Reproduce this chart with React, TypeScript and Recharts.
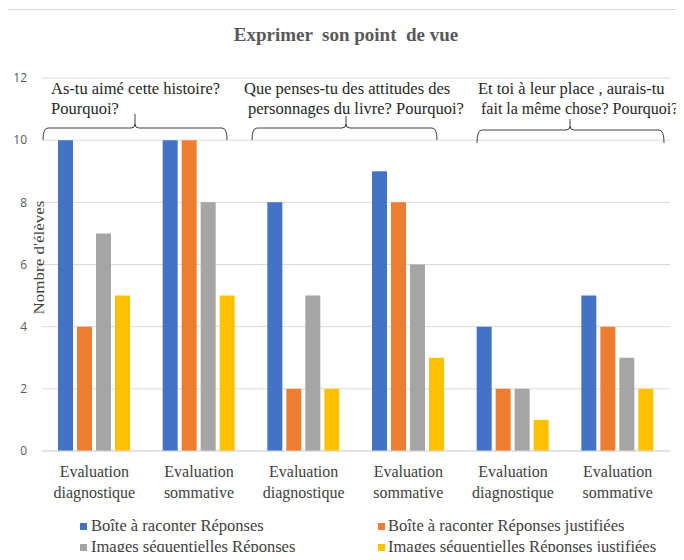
import React from 'react';
import { BarChart, Bar, XAxis, YAxis, CartesianGrid, Legend, Customized } from 'recharts';

const categories = [
  'Evaluation diagnostique',
  'Evaluation sommative',
  'Evaluation diagnostique',
  'Evaluation sommative',
  'Evaluation diagnostique',
  'Evaluation sommative',
];
const boiteReponses = [10, 10, 8, 9, 4, 5];
const boiteJustifiees = [4, 10, 2, 8, 2, 4];
const imagesReponses = [7, 8, 5, 6, 2, 3];
const imagesJustifiees = [5, 5, 2, 3, 1, 2];
const yTicks = [0, 2, 4, 6, 8, 10, 12];

const series = [
  { key: 'boiteReponses', name: 'Boîte à raconter Réponses', color: '#4472C4' },
  { key: 'boiteJustifiees', name: 'Boîte à raconter Réponses justifiées', color: '#ED7D31' },
  { key: 'imagesReponses', name: 'Images séquentielles Réponses', color: '#A5A5A5' },
  { key: 'imagesJustifiees', name: 'Images séquentielles Réponses justifiées', color: '#FFC000' },
];

const questions = [
  ['As-tu aimé cette histoire?', 'Pourquoi?'],
  ['Que penses-tu des attitudes des', 'personnages du livre? Pourquoi?'],
  ['Et toi à leur place , aurais-tu', 'fait la même chose? Pourquoi?'],
];

// layout of the brace annotations (pixels)
const braceLayout = [
  { tx: 51, tx2: 51, fs2: 16.5, ty: 94, x1: 43, x2: 227, cx: 135, y: 128, top: 114, bottom: 140 },
  { tx: 244, tx2: 248, fs2: 16.5, ty: 94, x1: 252, x2: 437, cx: 346, y: 128, top: 116, bottom: 140 },
  { tx: 478, tx2: 481, fs2: 16, ty: 94, x1: 477, x2: 664, cx: 570, y: 130, top: 119, bottom: 143 },
];

const data = categories.map((name, i) => ({
  name,
  boiteReponses: boiteReponses[i],
  boiteJustifiees: boiteJustifiees[i],
  imagesReponses: imagesReponses[i],
  imagesJustifiees: imagesJustifiees[i],
}));

const serif = 'Liberation Serif, serif';

const XTick = ({ x, y, payload }: any) => {
  const [a, b] = String(payload.value).split(' ');
  return (
    <text x={x} y={y} textAnchor="middle" fontFamily={serif} fontSize={16} fill="#404040">
      <tspan x={x} dy={26}>{a}</tspan>
      <tspan x={x} dy={21}>{b}</tspan>
    </text>
  );
};

const Annotations = () => (
  <g>
    <text x={346} y={41} textAnchor="middle" fontFamily={serif} fontSize={19} fontWeight="bold" fill="#595959" style={{ whiteSpace: 'pre' }}>
      {'Exprimer  son point  de vue'}
    </text>
    {braceLayout.map((b, i) => (
      <g key={i}>
        <text fontFamily={serif} fontSize={16.5} fill="#262626">
          <tspan x={b.tx} y={b.ty}>{questions[i][0]}</tspan>
          <tspan x={b.tx2} y={b.ty + 20} fontSize={b.fs2}>{questions[i][1]}</tspan>
        </text>
        <path
          d={`M${b.x1},${b.bottom} Q${b.x1},${b.y} ${b.x1 + 5},${b.y} H${b.cx - 4} Q${b.cx},${b.y} ${b.cx},${b.y - 4} V${b.top} M${b.cx},${b.y - 4} Q${b.cx},${b.y} ${b.cx + 4},${b.y} H${b.x2 - 5} Q${b.x2},${b.y} ${b.x2},${b.bottom}`}
          fill="none"
          stroke="#404040"
          strokeWidth={1}
        />
      </g>
    ))}
  </g>
);

const legendPos = [
  { left: 80, top: 3, gap: 4 },
  { left: 378, top: 3, gap: 3 },
  { left: 80, top: 24, gap: 4 },
  { left: 378, top: 24, gap: 3 },
];

const renderLegend = ({ payload }: any) => (
  <div style={{ position: 'relative', height: 44, width: 684 }}>
    {(payload || []).map((entry: any, i: number) => (
      <div
        key={i}
        style={{
          position: 'absolute',
          left: legendPos[i].left,
          top: legendPos[i].top,
          display: 'flex',
          alignItems: 'center',
          fontFamily: serif,
          fontSize: 16.5,
          color: '#404040',
          whiteSpace: 'nowrap',
          lineHeight: '22px',
        }}
      >
        <span style={{ display: 'inline-block', width: 7, height: 7, background: entry.color, marginRight: legendPos[i].gap }} />
        {entry.value}
      </div>
    ))}
  </div>
);

const App: React.FC = () => {
  return (
    <div style={{ position: 'relative', width: 684, height: 560, margin: -8, background: '#fff' }}>
      <div
        style={{
          position: 'absolute',
          left: 7,
          top: 9,
          right: 0,
          bottom: 0,
          borderLeft: '1px solid #d9d9d9',
          borderTop: '1px solid #d9d9d9',
        }}
      />
      <BarChart
        width={684}
        height={560}
        data={data}
        margin={{ top: 78, right: 14, left: 0, bottom: 4 }}
        barSize={15}
        barGap={4}
        style={{ position: 'absolute', left: 0, top: 0 }}
      >
        <CartesianGrid vertical={false} stroke="#d9d9d9" />
        <XAxis
          dataKey="name"
          height={61}
          tickLine={false}
          tickSize={0}
          tickMargin={0}
          stroke="#d9d9d9"
          tick={<XTick />}
          interval={0}
        />
        <YAxis
          width={42}
          domain={[0, 12]}
          ticks={yTicks}
          axisLine={false}
          tickLine={false}
          tickSize={0}
          tickMargin={15}
          tick={{ fill: '#595959', fontSize: 12, fontFamily: 'Open Sans, sans-serif' }}
          label={({ viewBox }: any) => (
            <text
              x={viewBox.x + viewBox.width + 2}
              y={viewBox.y + viewBox.height / 2 - 7}
              transform={`rotate(-90, ${viewBox.x + viewBox.width + 2}, ${viewBox.y + viewBox.height / 2 - 7})`}
              textAnchor="middle"
              fontFamily={serif}
              fontSize={14}
              textLength={114}
              lengthAdjust="spacingAndGlyphs"
              fill="#404040"
            >
              Nombre d'élèves
            </text>
          )}
        />
        <Legend
          verticalAlign="bottom"
          content={renderLegend}
          wrapperStyle={{ left: 0, width: 684 }}
        />
        {series.map((s) => (
          <Bar key={s.key} dataKey={s.key} name={s.name} fill={s.color} isAnimationActive={false} />
        ))}
        <Customized component={Annotations} />
      </BarChart>
    </div>
  );
};

export default App;
